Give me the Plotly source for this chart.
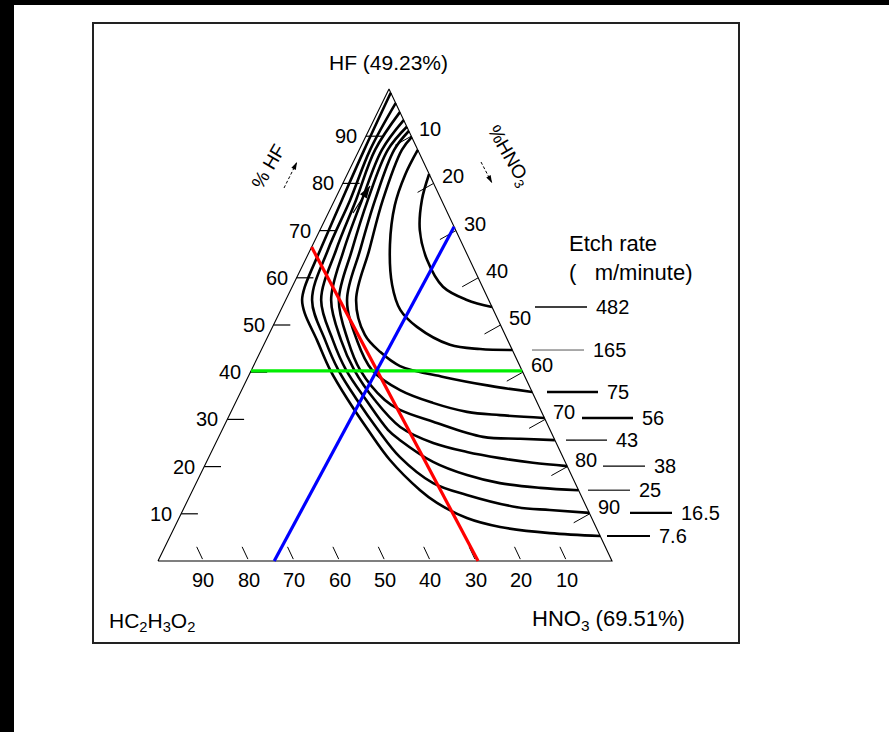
import math
import plotly.graph_objects as go

# ---------------- data ----------------
hf_ticks = [10, 20, 30, 40, 50, 60, 70, 80, 90]          # % HF on left edge
hno3_ticks = [10, 20, 30, 40, 50, 60, 70, 80, 90]        # % HNO3 on right edge
acetic_ticks = [90, 80, 70, 60, 50, 40, 30, 20, 10]      # % HC2H3O2 on base

etch_rates = ["482", "165", "75", "56", "43", "38", "25", "16.5", "7.6"]

# iso-etch-rate curves: (% HF, % HNO3) along each curve
c482_hf = [82.0, 76.5, 70.1, 63.8, 58.1, 55.3, 53.8]
c482_hno3 = [18.0, 19.2, 22.0, 26.8, 33.2, 39.9, 46.2]
c165_hf = [87.1, 81.8, 75.4, 67.0, 58.5, 53.2, 49.6, 45.8, 44.9, 44.7]
c165_hno3 = [12.9, 12.8, 13.8, 17.0, 21.8, 26.3, 31.8, 41.0, 48.1, 55.3]
c75_hf = [89.8, 87.1, 76.5, 65.9, 55.3, 47.9, 44.3, 41.3, 39.0, 37.1, 35.8]
c75_hno3 = [10.2, 9.4, 10.6, 13.0, 15.5, 21.2, 26.4, 32.3, 43.0, 54.3, 64.2]
c56_hf = [91.1, 87.1, 76.5, 65.9, 55.3, 46.8, 40.5, 36.2, 33.5, 31.6, 30.9, 30.3]
c56_hno3 = [8.9, 7.7, 8.9, 11.0, 13.5, 20.0, 26.5, 34.9, 43.5, 52.0, 59.6, 69.7]
c43_hf = [92.0, 87.1, 76.5, 65.9, 55.3, 46.8, 40.5, 34.1, 32.0, 29.5, 26.3, 25.9, 25.6]
c43_hno3 = [8.0, 6.3, 7.3, 9.2, 11.7, 18.0, 23.9, 32.6, 37.0, 45.6, 58.2, 66.6, 74.4]
c38_hf = [93.4, 87.1, 76.5, 65.9, 55.3, 46.8, 40.5, 34.1, 28.4, 25.0, 23.1, 21.8, 20.8, 20.1]
c38_hno3 = [6.6, 5.0, 6.0, 7.4, 10.0, 16.5, 22.6, 30.4, 38.9, 47.9, 56.3, 64.2, 72.0, 79.9]
c25_hf = [95.1, 87.1, 76.5, 65.9, 55.3, 46.8, 40.5, 34.1, 27.8, 25.6, 21.0, 18.2, 16.5, 15.5, 15.0]
c25_hno3 = [4.9, 3.5, 4.7, 5.7, 7.8, 14.7, 20.8, 28.5, 36.5, 40.3, 49.9, 58.8, 66.9, 76.3, 85.0]
c16_hf = [97.0, 87.1, 76.5, 65.9, 55.3, 46.8, 40.5, 34.1, 27.8, 22.0, 16.5, 14.0, 11.4, 10.8, 10.2]
c16_hno3 = [3.0, 2.4, 3.4, 3.9, 5.8, 13.0, 19.1, 26.5, 34.3, 42.1, 52.2, 60.9, 73.3, 80.8, 89.8]
c7_hf = [99.2, 87.1, 76.5, 65.9, 58.0, 55.3, 52.5, 46.8, 40.5, 34.1, 27.8, 21.4, 15.0, 12.3, 9.1, 7.2, 5.9, 5.3]
c7_hno3 = [0.8, 1.1, 1.6, 2.2, 2.8, 3.6, 5.6, 11.2, 17.3, 24.5, 32.1, 40.2, 50.1, 55.2, 63.4, 71.7, 83.3, 94.7]

curves_hf = [c482_hf, c165_hf, c75_hf, c56_hf, c43_hf, c38_hf, c25_hf, c16_hf, c7_hf]
curves_hno3 = [c482_hno3, c165_hno3, c75_hno3, c56_hno3, c43_hno3, c38_hno3, c25_hno3, c16_hno3, c7_hno3]

# highlighted composition lines (% HF, % HNO3 at both ends)
red_hf = [66.5, 0.0]
red_hno3 = [0.0, 70.5]
blue_hf = [0.0, 70.8]
blue_hno3 = [25.6, 29.2]
green_hf = [40.3, 40.3]
green_hno3 = [0.0, 59.7]

# ---------------- layout geometry (pixels) ----------------
W, H = 889, 732
X0, X1, XA = 158, 612, 389     # base-left, base-right, apex x
YB, YA = 561, 89               # base y, apex y
AX = (XA - X0) / (X1 - X0)


def tern(hf, hno3):
    """ternary percentages -> cartesian axis coordinates"""
    h = hf / 100.0
    n = hno3 / 100.0
    return n + h * AX, h


def px2x(px):
    return (px - X0) / (X1 - X0)


def px2y(py):
    return (YB - py) / (YB - YA)


FONT = "Liberation Sans, Arial, Helvetica, sans-serif"
FS_NUM = 20
FS_TXT = 22

fig = go.Figure()


def add_line(pts, color="black", width=1.0, shape="linear"):
    xs, ys = [], []
    for p in pts:
        if p is None:
            xs.append(None)
            ys.append(None)
        else:
            x, y = tern(*p)
            xs.append(x)
            ys.append(y)
    fig.add_trace(go.Scatter(x=xs, y=ys, mode="lines", hoverinfo="skip",
                             line=dict(color=color, width=width, shape=shape),
                             showlegend=False))


def add_arrow(p0, p1, width=1.0, size=8, dash="solid"):
    fig.add_trace(go.Scatter(x=[px2x(p0[0]), px2x(p1[0])], y=[px2y(p0[1]), px2y(p1[1])],
                             mode="lines", hoverinfo="skip", showlegend=False,
                             line=dict(color="black", width=width, dash=dash)))
    ang = math.degrees(math.atan2(p1[0] - p0[0], -(p1[1] - p0[1])))
    fig.add_trace(go.Scatter(x=[px2x(p1[0])], y=[px2y(p1[1])],
                             mode="markers", hoverinfo="skip", showlegend=False,
                             marker=dict(symbol="arrow", size=size, angle=ang,
                                         color="black", line=dict(width=0))))


# triangle outline
add_line([(0, 0), (0, 100), (100, 0), (0, 0)], width=1.1)

# left ticks (constant HF, horizontal)
pts = []
for h in hf_ticks:
    pts += [(h, 0), (h, 3.7), None]
add_line(pts, width=1.2)

# right ticks (perpendicular into the triangle)
pts = []
for n in hno3_ticks:
    h = 100 - n
    pts += [(h, n), (h - 1.9, n - 2.56), None]
add_line(pts, width=1.0)

# base ticks (constant acetic acid)
pts = []
for a in acetic_ticks:
    n = 100 - a
    pts += [(0.4, n - 0.4), (3.0, n - 3.0), None]
add_line(pts, width=1.0)

# iso-etch curves
for hfs, ns in zip(curves_hf, curves_hno3):
    add_line(list(zip(hfs, ns)), width=2.6, shape="spline")

# coloured composition lines
add_line(list(zip(green_hf, green_hno3)), color="#00ee00", width=3.2)
add_line(list(zip(red_hf, red_hno3)), color="#ff0000", width=3.2)
add_line(list(zip(blue_hf, blue_hno3)), color="#0000ff", width=3.2)

# small direction arrows
add_arrow((284, 188), (297, 162), dash="3px,2px")
add_arrow((481, 162), (492, 183), dash="3px,2px")
add_arrow((353, 213), (370, 186), width=1.2, size=13)

annotations = []
shapes = []


def text(x, y, s, xanchor="center", size=FS_NUM, angle=0, xshift=0, yshift=0):
    annotations.append(dict(x=x, y=y, xref="x", yref="y", text=s, showarrow=False,
                            xanchor=xanchor, yanchor="middle", textangle=angle,
                            xshift=xshift, yshift=yshift,
                            font=dict(family=FONT, size=size, color="black")))


# tick labels
for h in hf_ticks:
    x, y = tern(h, 0)
    text(x, y, str(h), xshift=-20)
for n in hno3_ticks:
    x, y = tern(100 - n, n)
    text(x, y, str(n), xshift=19, yshift=7)
for a in acetic_ticks:
    x, y = tern(0, 100 - a)
    text(x, y, str(a), yshift=-19)

# etch-rate leader lines + labels
lead_start = [535, 532, 547, 582, 566, 603, 588, 630, 607]
lead_end = [587, 584, 598, 633, 607, 645, 630, 672, 650]
lead_w = [1.4, 1.0, 2.6, 2.6, 1.4, 1.4, 1.4, 2.4, 2.0]
lead_c = ["black", "#555555", "black", "black", "black", "black", "#444444", "black", "black"]
for lab, hfs, s, e, w, c in zip(etch_rates, curves_hf, lead_start, lead_end, lead_w, lead_c):
    y = hfs[-1] / 100.0
    shapes.append(dict(type="line", xref="x", yref="y", x0=px2x(s), x1=px2x(e),
                       y0=y, y1=y, line=dict(color=c, width=w)))
    text(px2x(e + 7), y, lab, xanchor="left")

# titles / axis names
text(px2x(388), px2y(62), "HF (49.23%)", size=21)
text(px2x(567), px2y(243), "Etch rate", xanchor="left", size=FS_TXT)
text(px2x(567), px2y(272), "(\u00a0\u00a0\u00a0m/minute)", xanchor="left", size=FS_TXT)
text(px2x(107), px2y(622), "HC<sub>2</sub>H<sub>3</sub>O<sub>2</sub>", xanchor="left", size=21)
text(px2x(530), px2y(620), "HNO<sub>3</sub> (69.51%)", xanchor="left", size=FS_TXT)
text(px2x(268), px2y(166), "% HF", angle=-60, size=19)
text(px2x(508), px2y(156), "%HNO<sub>3</sub>", angle=60, size=19)

# page decoration: black bands and frame
shapes.append(dict(type="rect", xref="paper", yref="paper", x0=0, x1=1,
                   y0=1 - 5 / H, y1=1, fillcolor="black", line=dict(width=0), layer="below"))
shapes.append(dict(type="rect", xref="paper", yref="paper", x0=0, x1=14 / W,
                   y0=0, y1=1, fillcolor="black", line=dict(width=0), layer="below"))
shapes.append(dict(type="rect", xref="paper", yref="paper", x0=93 / W, x1=739 / W,
                   y0=1 - 643 / H, y1=1 - 23 / H, line=dict(color="#222222", width=2),
                   layer="below"))

fig.update_layout(
    width=W, height=H, autosize=False,
    margin=dict(l=0, r=0, t=0, b=0, pad=0),
    paper_bgcolor="white", plot_bgcolor="white",
    xaxis=dict(range=[px2x(0), px2x(W)], visible=False, fixedrange=True),
    yaxis=dict(range=[px2y(H), px2y(0)], visible=False, fixedrange=True),
    annotations=annotations, shapes=shapes, showlegend=False,
)

fig.write_html("out.html", config={"displayModeBar": False, "staticPlot": True},
               post_script="document.body.style.margin='0';document.body.style.overflow='hidden';")
